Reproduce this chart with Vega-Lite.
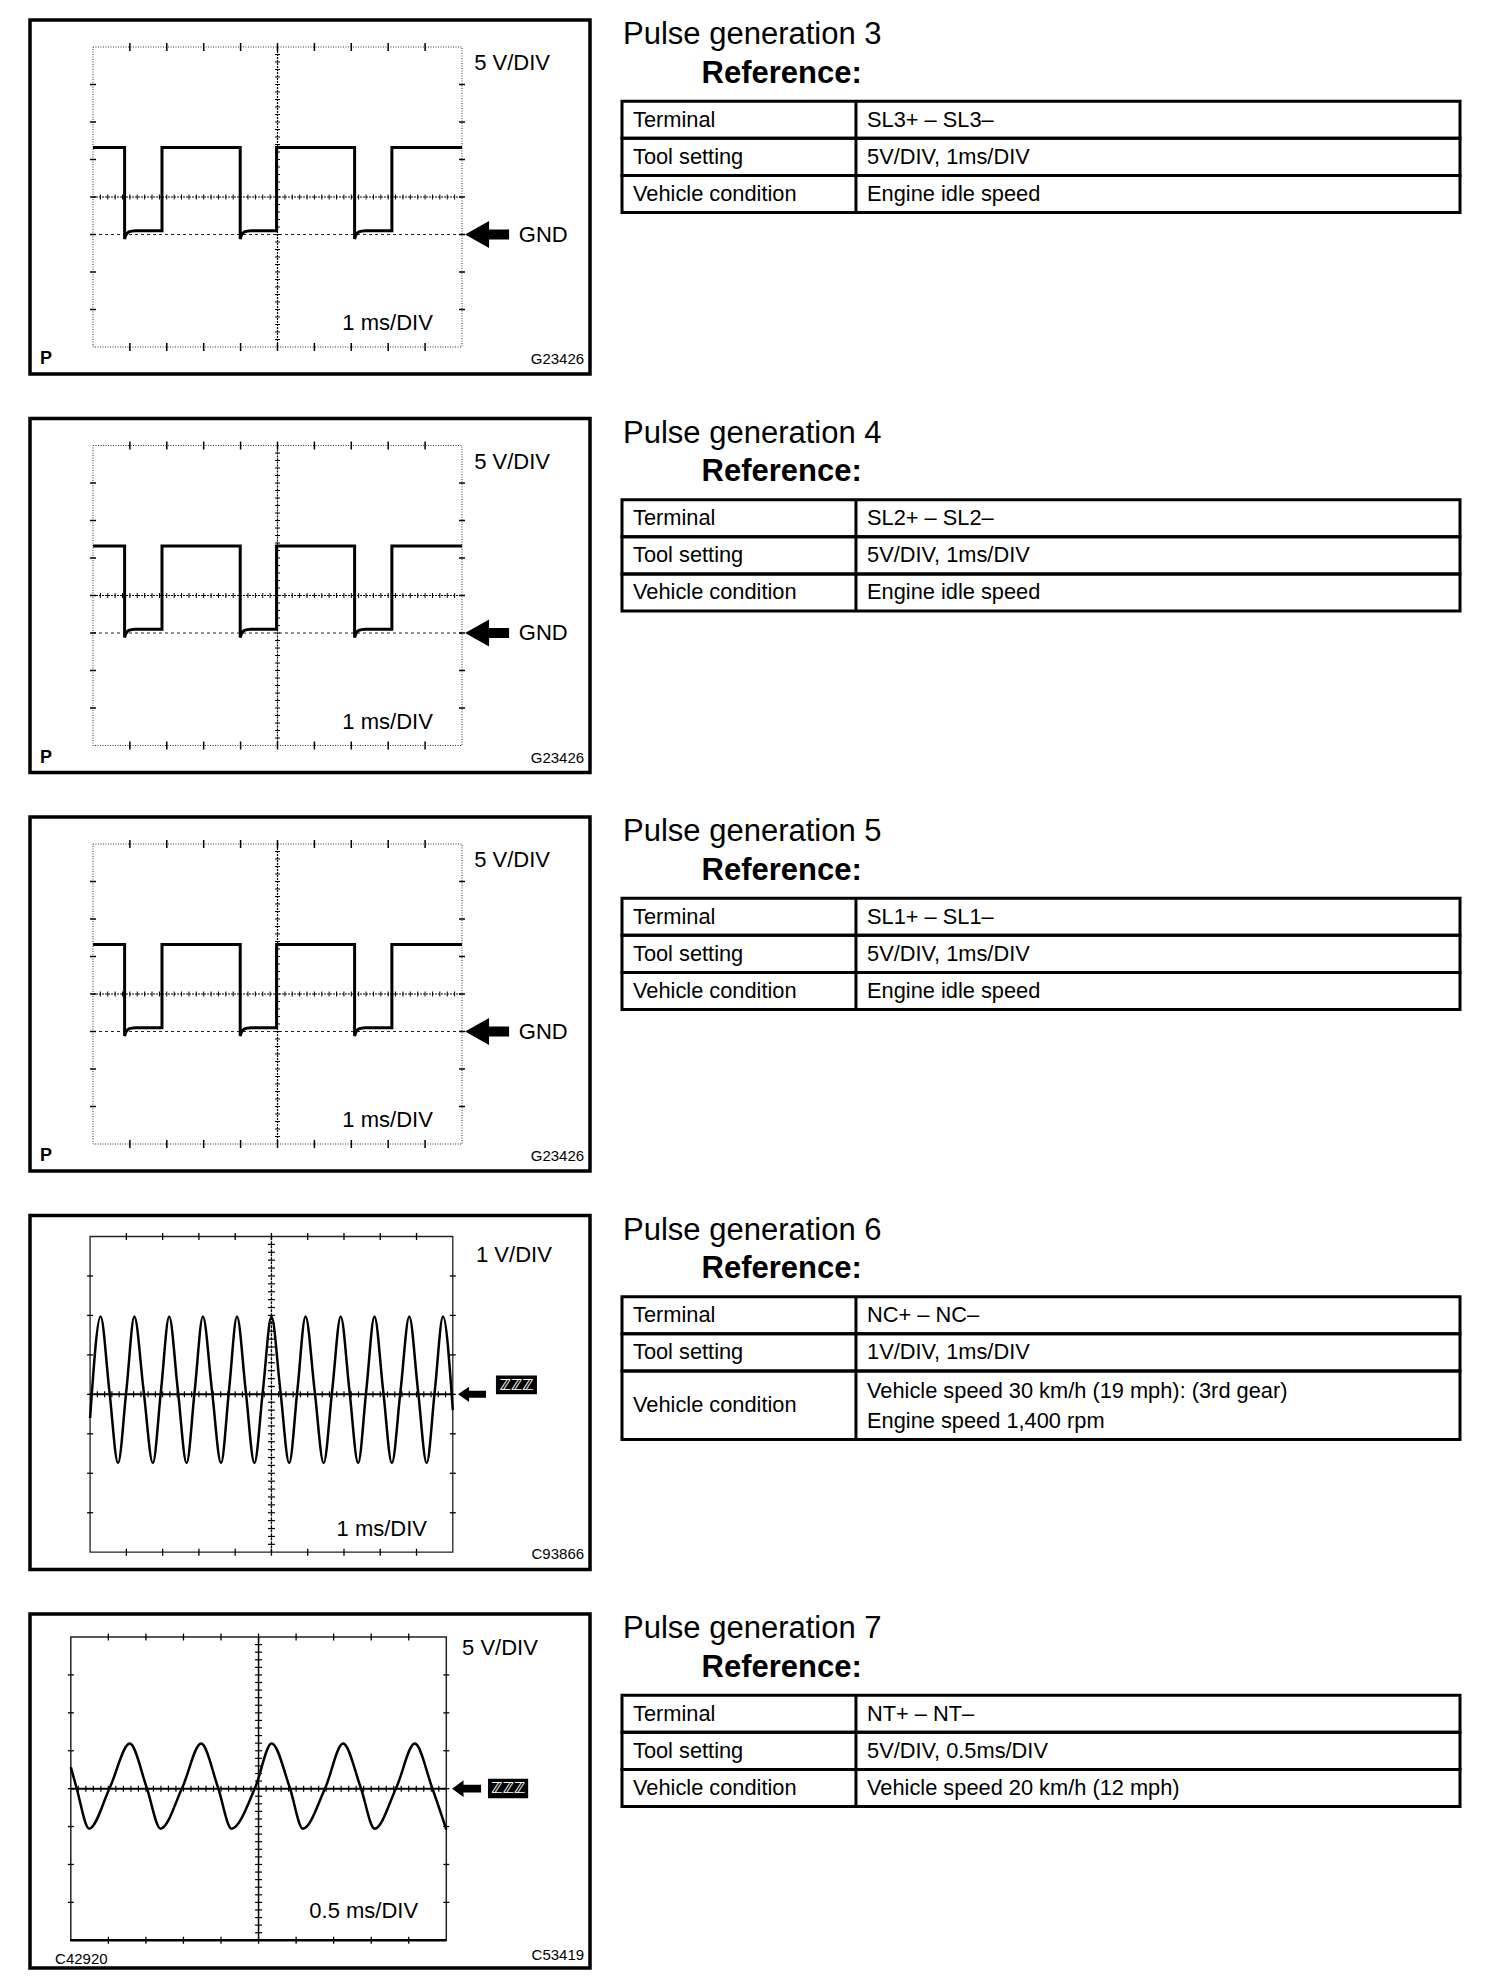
{
  "$schema": "https://vega.github.io/schema/vega-lite/v6.json",
  "background": "white",
  "padding": {"left": 28, "top": 18, "right": 0, "bottom": 0},
  "autosize": {"type": "pad"},
  "spacing": 40.5,
  "config": {
    "view": {"stroke": null},
    "axis": {"disable": true},
    "mark": {"color": "black"},
    "text": {"font": "Liberation Sans", "color": "black"}
  },
  "datasets": {
    "hminor": [{"p":0.2},{"p":0.4},{"p":0.6},{"p":0.8},{"p":1},{"p":1.2},{"p":1.4},{"p":1.6},{"p":1.8},{"p":2},{"p":2.2},{"p":2.4},{"p":2.6},{"p":2.8},{"p":3},{"p":3.2},{"p":3.4},{"p":3.6},{"p":3.8},{"p":4},{"p":4.2},{"p":4.4},{"p":4.6},{"p":4.8},{"p":5},{"p":5.2},{"p":5.4},{"p":5.6},{"p":5.8},{"p":6},{"p":6.2},{"p":6.4},{"p":6.6},{"p":6.8},{"p":7},{"p":7.2},{"p":7.4},{"p":7.6},{"p":7.8},{"p":8},{"p":8.2},{"p":8.4},{"p":8.6},{"p":8.8},{"p":9},{"p":9.2},{"p":9.4},{"p":9.6},{"p":9.8}],
    "vminor": [{"p":0.2},{"p":0.4},{"p":0.6},{"p":0.8},{"p":1},{"p":1.2},{"p":1.4},{"p":1.6},{"p":1.8},{"p":2},{"p":2.2},{"p":2.4},{"p":2.6},{"p":2.8},{"p":3},{"p":3.2},{"p":3.4},{"p":3.6},{"p":3.8},{"p":4},{"p":4.2},{"p":4.4},{"p":4.6},{"p":4.8},{"p":5},{"p":5.2},{"p":5.4},{"p":5.6},{"p":5.8},{"p":6},{"p":6.2},{"p":6.4},{"p":6.6},{"p":6.8},{"p":7},{"p":7.2},{"p":7.4},{"p":7.6},{"p":7.8}],
    "hmajor": [{"p":1},{"p":2},{"p":3},{"p":4},{"p":5},{"p":6},{"p":7},{"p":8},{"p":9}],
    "vmajor": [{"p":1},{"p":2},{"p":3},{"p":4},{"p":5},{"p":6},{"p":7}],
    "sq": [{"t":0,"v":5.32},{"t":0.857,"v":5.32},{"t":0.857,"v":2.88},{"t":0.88,"v":2.96},{"t":0.92,"v":3.03},{"t":0.97,"v":3.07},{"t":1.05,"v":3.09},{"t":1.15,"v":3.1},{"t":1.87,"v":3.1},{"t":1.87,"v":5.32},{"t":3.99,"v":5.32},{"t":3.99,"v":2.88},{"t":4.013,"v":2.96},{"t":4.053,"v":3.03},{"t":4.103,"v":3.07},{"t":4.183,"v":3.09},{"t":4.283,"v":3.1},{"t":4.975,"v":3.1},{"t":4.975,"v":5.32},{"t":7.09,"v":5.32},{"t":7.09,"v":2.88},{"t":7.113,"v":2.96},{"t":7.153,"v":3.03},{"t":7.203,"v":3.07},{"t":7.283,"v":3.09},{"t":7.383,"v":3.1},{"t":8.1,"v":3.1},{"t":8.1,"v":5.32},{"t":10,"v":5.32}],
    "sine6": [{"t":0,"v":3.4},{"t":0.29,"v":5.97},{"t":0.53,"v":4.1},{"t":0.77,"v":2.26},{"t":1.0,"v":4.1},{"t":1.22,"v":5.97},{"t":1.475,"v":4.1},{"t":1.73,"v":2.26},{"t":1.955,"v":4.1},{"t":2.18,"v":5.97},{"t":2.42,"v":4.1},{"t":2.66,"v":2.26},{"t":2.885,"v":4.1},{"t":3.11,"v":5.97},{"t":3.36,"v":4.1},{"t":3.61,"v":2.26},{"t":3.83,"v":4.1},{"t":4.05,"v":5.97},{"t":4.29,"v":4.1},{"t":4.53,"v":2.26},{"t":4.765,"v":4.1},{"t":5.0,"v":5.97},{"t":5.245,"v":4.1},{"t":5.49,"v":2.26},{"t":5.715,"v":4.1},{"t":5.94,"v":5.97},{"t":6.19,"v":4.1},{"t":6.44,"v":2.26},{"t":6.675,"v":4.1},{"t":6.91,"v":5.97},{"t":7.15,"v":4.1},{"t":7.39,"v":2.26},{"t":7.615,"v":4.1},{"t":7.84,"v":5.97},{"t":8.08,"v":4.1},{"t":8.32,"v":2.26},{"t":8.56,"v":4.1},{"t":8.8,"v":5.97},{"t":9.04,"v":4.1},{"t":9.28,"v":2.26},{"t":9.505,"v":4.1},{"t":9.73,"v":5.97},{"t":10,"v":3.6}],
    "sine7": [{"t":0,"v":4.57},{"t":0.15,"v":4.03},{"t":0.49,"v":2.945},{"t":1.04,"v":4.03},{"t":1.57,"v":5.19},{"t":2.02,"v":4.03},{"t":2.39,"v":2.945},{"t":2.97,"v":4.03},{"t":3.47,"v":5.19},{"t":3.92,"v":4.03},{"t":4.28,"v":2.945},{"t":4.91,"v":4.03},{"t":5.35,"v":5.19},{"t":5.83,"v":4.03},{"t":6.18,"v":2.945},{"t":6.78,"v":4.03},{"t":7.25,"v":5.19},{"t":7.72,"v":4.03},{"t":8.09,"v":2.945},{"t":8.67,"v":4.03},{"t":9.16,"v":5.19},{"t":9.62,"v":4.03},{"t":10,"v":2.92}],
    "t3": [{"label":"Terminal","value":"SL3+ – SL3–","top":0,"bottom":1,"mid":0.5,"vy":0.5},{"label":"Tool setting","value":"5V/DIV, 1ms/DIV","top":1,"bottom":2,"mid":1.5,"vy":1.5},{"label":"Vehicle condition","value":"Engine idle speed","top":2,"bottom":3,"mid":2.5,"vy":2.5}],
    "t4": [{"label":"Terminal","value":"SL2+ – SL2–","top":0,"bottom":1,"mid":0.5,"vy":0.5},{"label":"Tool setting","value":"5V/DIV, 1ms/DIV","top":1,"bottom":2,"mid":1.5,"vy":1.5},{"label":"Vehicle condition","value":"Engine idle speed","top":2,"bottom":3,"mid":2.5,"vy":2.5}],
    "t5": [{"label":"Terminal","value":"SL1+ – SL1–","top":0,"bottom":1,"mid":0.5,"vy":0.5},{"label":"Tool setting","value":"5V/DIV, 1ms/DIV","top":1,"bottom":2,"mid":1.5,"vy":1.5},{"label":"Vehicle condition","value":"Engine idle speed","top":2,"bottom":3,"mid":2.5,"vy":2.5}],
    "t6": [{"label":"Terminal","value":"NC+ – NC–","top":0,"bottom":1,"mid":0.5,"vy":0.5},{"label":"Tool setting","value":"1V/DIV, 1ms/DIV","top":1,"bottom":2,"mid":1.5,"vy":1.5},{"label":"Vehicle condition","value":"Vehicle speed 30 km/h (19 mph): (3rd gear)\nEngine speed 1,400 rpm","top":2,"bottom":3.85,"mid":2.925,"vy":2.53}],
    "t7": [{"label":"Terminal","value":"NT+ – NT–","top":0,"bottom":1,"mid":0.5,"vy":0.5},{"label":"Tool setting","value":"5V/DIV, 0.5ms/DIV","top":1,"bottom":2,"mid":1.5,"vy":1.5},{"label":"Vehicle condition","value":"Vehicle speed 20 km/h (12 mph)","top":2,"bottom":3,"mid":2.5,"vy":2.5}]
  },
  "vconcat": [
    {"hconcat": [
      {"width": 560, "height": 354, "layer": [
        {"data": {"values": [{}]}, "mark": {"type": "rect", "fill": "transparent", "stroke": "black", "strokeWidth": 3.5}, "encoding": {"x": {"datum": -1.707, "scale": {"domain": [-1.707, 13.469], "nice": false, "zero": false}}, "x2": {"datum": 13.469}, "y": {"datum": -0.72, "scale": {"domain": [-0.72, 8.72], "nice": false, "zero": false}}, "y2": {"datum": 8.72}}},
        {"data": {"values": [{}]}, "mark": {"type": "rect", "fill": "transparent", "stroke": "#333", "strokeWidth": 1, "strokeDash": [1, 1.5]}, "encoding": {"x": {"datum": 0}, "x2": {"datum": 10}, "y": {"datum": 0}, "y2": {"datum": 8}}},
        {"data": {"values": [{}]}, "mark": {"type": "rule", "stroke": "black", "strokeWidth": 1.2, "strokeDash": [2, 1]}, "encoding": {"x": {"datum": 5}, "y": {"datum": 0}, "y2": {"datum": 8}}},
        {"data": {"values": [{}]}, "mark": {"type": "rule", "stroke": "black", "strokeWidth": 1.2, "strokeDash": [2, 1]}, "encoding": {"y": {"datum": 4}, "x": {"datum": 0}, "x2": {"datum": 10}}},
        {"data": {"values": [{}]}, "mark": {"type": "rule", "stroke": "#222", "strokeWidth": 1, "strokeDash": [3, 3]}, "encoding": {"y": {"datum": 3}, "x": {"datum": 0}, "x2": {"datum": 10}}},
        {"data": {"name": "hminor"}, "mark": {"type": "tick", "orient": "vertical", "size": 5, "thickness": 1, "color": "black", "opacity": 1}, "encoding": {"x": {"field": "p", "type": "quantitative"}, "y": {"datum": 4}}},
        {"data": {"name": "vminor"}, "mark": {"type": "tick", "orient": "horizontal", "size": 5, "thickness": 1, "color": "black", "opacity": 1}, "encoding": {"y": {"field": "p", "type": "quantitative"}, "x": {"datum": 5}}},
        {"data": {"name": "hmajor"}, "mark": {"type": "tick", "orient": "vertical", "size": 8, "thickness": 1.5, "color": "black", "opacity": 1}, "encoding": {"x": {"field": "p", "type": "quantitative"}, "y": {"datum": 8}}},
        {"data": {"name": "hmajor"}, "mark": {"type": "tick", "orient": "vertical", "size": 8, "thickness": 1.5, "color": "black", "opacity": 1}, "encoding": {"x": {"field": "p", "type": "quantitative"}, "y": {"datum": 0}}},
        {"data": {"name": "vmajor"}, "mark": {"type": "tick", "orient": "horizontal", "size": 6, "thickness": 1.5, "color": "black", "opacity": 1}, "encoding": {"y": {"field": "p", "type": "quantitative"}, "x": {"datum": 0}}},
        {"data": {"name": "vmajor"}, "mark": {"type": "tick", "orient": "horizontal", "size": 6, "thickness": 1.5, "color": "black", "opacity": 1}, "encoding": {"y": {"field": "p", "type": "quantitative"}, "x": {"datum": 10}}},
        {"data": {"name": "sq"}, "mark": {"type": "line", "color": "black", "strokeWidth": 3, "strokeJoin": "miter"}, "encoding": {"x": {"field": "t", "type": "quantitative"}, "y": {"field": "v", "type": "quantitative"}, "order": {"value": null}}},
        {"data": {"values": [{}]}, "mark": {"type": "point", "shape": "M-1,0L0.09,-0.61L0.09,-0.23L1,-0.23L1,0.23L0.09,0.23L0.09,0.61Z", "size": 1936, "filled": true, "color": "black", "opacity": 1, "strokeWidth": 0}, "encoding": {"x": {"datum": 10.68}, "y": {"datum": 3}}},
        {"data": {"values": [{}]}, "mark": {"type": "text", "align": "left", "baseline": "middle", "fontSize": 22}, "encoding": {"x": {"datum": 10.33}, "y": {"datum": 7.57}, "text": {"value": "5 V/DIV"}}},
        {"data": {"values": [{}]}, "mark": {"type": "text", "align": "left", "baseline": "middle", "fontSize": 22}, "encoding": {"x": {"datum": 11.54}, "y": {"datum": 3}, "text": {"value": "GND"}}},
        {"data": {"values": [{}]}, "mark": {"type": "text", "align": "right", "baseline": "middle", "fontSize": 22}, "encoding": {"x": {"datum": 9.21}, "y": {"datum": 0.64}, "text": {"value": "1 ms/DIV"}}},
        {"data": {"values": [{}]}, "mark": {"type": "text", "align": "left", "baseline": "middle", "fontSize": 18, "fontWeight": "bold"}, "encoding": {"x": {"datum": -1.436}, "y": {"datum": -0.33}, "text": {"value": "P"}}},
        {"data": {"values": [{}]}, "mark": {"type": "text", "align": "right", "baseline": "middle", "fontSize": 15}, "encoding": {"x": {"datum": 13.31}, "y": {"datum": -0.32}, "text": {"value": "G23426"}}}
      ]},
      {"width": 860, "height": 354, "layer": [
        {"data": {"values": [{}]}, "mark": {"type": "text", "align": "left", "baseline": "alphabetic", "fontSize": 31}, "encoding": {"x": {"datum": 0.0012, "scale": {"domain": [-0.01432, 1.01193], "nice": false, "zero": false}}, "y": {"datum": -1.542, "scale": {"domain": [-2.189, 7.353], "nice": false, "zero": false, "reverse": true}}, "text": {"value": "Pulse generation 3"}}},
        {"data": {"values": [{}]}, "mark": {"type": "text", "align": "left", "baseline": "alphabetic", "fontSize": 31, "fontWeight": "bold"}, "encoding": {"x": {"datum": 0.0949}, "y": {"datum": -0.491}, "text": {"value": "Reference:"}}},
        {"data": {"name": "t3"}, "mark": {"type": "rect", "fill": "transparent", "stroke": "black", "strokeWidth": 3}, "encoding": {"x": {"datum": 0}, "x2": {"datum": 1}, "y": {"field": "top", "type": "quantitative"}, "y2": {"field": "bottom"}}},
        {"data": {"values": [{}]}, "mark": {"type": "rule", "stroke": "black", "strokeWidth": 3}, "encoding": {"x": {"datum": 0.2792}, "y": {"datum": 0}, "y2": {"datum": 3}}},
        {"data": {"name": "t3"}, "mark": {"type": "text", "align": "left", "baseline": "middle", "fontSize": 21.8}, "encoding": {"x": {"datum": 0.0131}, "y": {"field": "mid", "type": "quantitative"}, "text": {"field": "label"}}},
        {"data": {"name": "t3"}, "mark": {"type": "text", "align": "left", "baseline": "middle", "fontSize": 21.8}, "encoding": {"x": {"datum": 0.2924}, "y": {"field": "vy", "type": "quantitative"}, "text": {"field": "value"}}}
      ]}
    ], "spacing": 20, "bounds": "flush"},
    {"hconcat": [
      {"width": 560, "height": 354, "layer": [
        {"data": {"values": [{}]}, "mark": {"type": "rect", "fill": "transparent", "stroke": "black", "strokeWidth": 3.5}, "encoding": {"x": {"datum": -1.707, "scale": {"domain": [-1.707, 13.469], "nice": false, "zero": false}}, "x2": {"datum": 13.469}, "y": {"datum": -0.72, "scale": {"domain": [-0.72, 8.72], "nice": false, "zero": false}}, "y2": {"datum": 8.72}}},
        {"data": {"values": [{}]}, "mark": {"type": "rect", "fill": "transparent", "stroke": "#333", "strokeWidth": 1, "strokeDash": [1, 1.5]}, "encoding": {"x": {"datum": 0}, "x2": {"datum": 10}, "y": {"datum": 0}, "y2": {"datum": 8}}},
        {"data": {"values": [{}]}, "mark": {"type": "rule", "stroke": "black", "strokeWidth": 1.2, "strokeDash": [2, 1]}, "encoding": {"x": {"datum": 5}, "y": {"datum": 0}, "y2": {"datum": 8}}},
        {"data": {"values": [{}]}, "mark": {"type": "rule", "stroke": "black", "strokeWidth": 1.2, "strokeDash": [2, 1]}, "encoding": {"y": {"datum": 4}, "x": {"datum": 0}, "x2": {"datum": 10}}},
        {"data": {"values": [{}]}, "mark": {"type": "rule", "stroke": "#222", "strokeWidth": 1, "strokeDash": [3, 3]}, "encoding": {"y": {"datum": 3}, "x": {"datum": 0}, "x2": {"datum": 10}}},
        {"data": {"name": "hminor"}, "mark": {"type": "tick", "orient": "vertical", "size": 5, "thickness": 1, "color": "black", "opacity": 1}, "encoding": {"x": {"field": "p", "type": "quantitative"}, "y": {"datum": 4}}},
        {"data": {"name": "vminor"}, "mark": {"type": "tick", "orient": "horizontal", "size": 5, "thickness": 1, "color": "black", "opacity": 1}, "encoding": {"y": {"field": "p", "type": "quantitative"}, "x": {"datum": 5}}},
        {"data": {"name": "hmajor"}, "mark": {"type": "tick", "orient": "vertical", "size": 8, "thickness": 1.5, "color": "black", "opacity": 1}, "encoding": {"x": {"field": "p", "type": "quantitative"}, "y": {"datum": 8}}},
        {"data": {"name": "hmajor"}, "mark": {"type": "tick", "orient": "vertical", "size": 8, "thickness": 1.5, "color": "black", "opacity": 1}, "encoding": {"x": {"field": "p", "type": "quantitative"}, "y": {"datum": 0}}},
        {"data": {"name": "vmajor"}, "mark": {"type": "tick", "orient": "horizontal", "size": 6, "thickness": 1.5, "color": "black", "opacity": 1}, "encoding": {"y": {"field": "p", "type": "quantitative"}, "x": {"datum": 0}}},
        {"data": {"name": "vmajor"}, "mark": {"type": "tick", "orient": "horizontal", "size": 6, "thickness": 1.5, "color": "black", "opacity": 1}, "encoding": {"y": {"field": "p", "type": "quantitative"}, "x": {"datum": 10}}},
        {"data": {"name": "sq"}, "mark": {"type": "line", "color": "black", "strokeWidth": 3, "strokeJoin": "miter"}, "encoding": {"x": {"field": "t", "type": "quantitative"}, "y": {"field": "v", "type": "quantitative"}, "order": {"value": null}}},
        {"data": {"values": [{}]}, "mark": {"type": "point", "shape": "M-1,0L0.09,-0.61L0.09,-0.23L1,-0.23L1,0.23L0.09,0.23L0.09,0.61Z", "size": 1936, "filled": true, "color": "black", "opacity": 1, "strokeWidth": 0}, "encoding": {"x": {"datum": 10.68}, "y": {"datum": 3}}},
        {"data": {"values": [{}]}, "mark": {"type": "text", "align": "left", "baseline": "middle", "fontSize": 22}, "encoding": {"x": {"datum": 10.33}, "y": {"datum": 7.57}, "text": {"value": "5 V/DIV"}}},
        {"data": {"values": [{}]}, "mark": {"type": "text", "align": "left", "baseline": "middle", "fontSize": 22}, "encoding": {"x": {"datum": 11.54}, "y": {"datum": 3}, "text": {"value": "GND"}}},
        {"data": {"values": [{}]}, "mark": {"type": "text", "align": "right", "baseline": "middle", "fontSize": 22}, "encoding": {"x": {"datum": 9.21}, "y": {"datum": 0.64}, "text": {"value": "1 ms/DIV"}}},
        {"data": {"values": [{}]}, "mark": {"type": "text", "align": "left", "baseline": "middle", "fontSize": 18, "fontWeight": "bold"}, "encoding": {"x": {"datum": -1.436}, "y": {"datum": -0.33}, "text": {"value": "P"}}},
        {"data": {"values": [{}]}, "mark": {"type": "text", "align": "right", "baseline": "middle", "fontSize": 15}, "encoding": {"x": {"datum": 13.31}, "y": {"datum": -0.32}, "text": {"value": "G23426"}}}
      ]},
      {"width": 860, "height": 354, "layer": [
        {"data": {"values": [{}]}, "mark": {"type": "text", "align": "left", "baseline": "alphabetic", "fontSize": 31}, "encoding": {"x": {"datum": 0.0012, "scale": {"domain": [-0.01432, 1.01193], "nice": false, "zero": false}}, "y": {"datum": -1.542, "scale": {"domain": [-2.189, 7.353], "nice": false, "zero": false, "reverse": true}}, "text": {"value": "Pulse generation 4"}}},
        {"data": {"values": [{}]}, "mark": {"type": "text", "align": "left", "baseline": "alphabetic", "fontSize": 31, "fontWeight": "bold"}, "encoding": {"x": {"datum": 0.0949}, "y": {"datum": -0.491}, "text": {"value": "Reference:"}}},
        {"data": {"name": "t4"}, "mark": {"type": "rect", "fill": "transparent", "stroke": "black", "strokeWidth": 3}, "encoding": {"x": {"datum": 0}, "x2": {"datum": 1}, "y": {"field": "top", "type": "quantitative"}, "y2": {"field": "bottom"}}},
        {"data": {"values": [{}]}, "mark": {"type": "rule", "stroke": "black", "strokeWidth": 3}, "encoding": {"x": {"datum": 0.2792}, "y": {"datum": 0}, "y2": {"datum": 3}}},
        {"data": {"name": "t4"}, "mark": {"type": "text", "align": "left", "baseline": "middle", "fontSize": 21.8}, "encoding": {"x": {"datum": 0.0131}, "y": {"field": "mid", "type": "quantitative"}, "text": {"field": "label"}}},
        {"data": {"name": "t4"}, "mark": {"type": "text", "align": "left", "baseline": "middle", "fontSize": 21.8}, "encoding": {"x": {"datum": 0.2924}, "y": {"field": "vy", "type": "quantitative"}, "text": {"field": "value"}}}
      ]}
    ], "spacing": 20, "bounds": "flush"},
    {"hconcat": [
      {"width": 560, "height": 354, "layer": [
        {"data": {"values": [{}]}, "mark": {"type": "rect", "fill": "transparent", "stroke": "black", "strokeWidth": 3.5}, "encoding": {"x": {"datum": -1.707, "scale": {"domain": [-1.707, 13.469], "nice": false, "zero": false}}, "x2": {"datum": 13.469}, "y": {"datum": -0.72, "scale": {"domain": [-0.72, 8.72], "nice": false, "zero": false}}, "y2": {"datum": 8.72}}},
        {"data": {"values": [{}]}, "mark": {"type": "rect", "fill": "transparent", "stroke": "#333", "strokeWidth": 1, "strokeDash": [1, 1.5]}, "encoding": {"x": {"datum": 0}, "x2": {"datum": 10}, "y": {"datum": 0}, "y2": {"datum": 8}}},
        {"data": {"values": [{}]}, "mark": {"type": "rule", "stroke": "black", "strokeWidth": 1.2, "strokeDash": [2, 1]}, "encoding": {"x": {"datum": 5}, "y": {"datum": 0}, "y2": {"datum": 8}}},
        {"data": {"values": [{}]}, "mark": {"type": "rule", "stroke": "black", "strokeWidth": 1.2, "strokeDash": [2, 1]}, "encoding": {"y": {"datum": 4}, "x": {"datum": 0}, "x2": {"datum": 10}}},
        {"data": {"values": [{}]}, "mark": {"type": "rule", "stroke": "#222", "strokeWidth": 1, "strokeDash": [3, 3]}, "encoding": {"y": {"datum": 3}, "x": {"datum": 0}, "x2": {"datum": 10}}},
        {"data": {"name": "hminor"}, "mark": {"type": "tick", "orient": "vertical", "size": 5, "thickness": 1, "color": "black", "opacity": 1}, "encoding": {"x": {"field": "p", "type": "quantitative"}, "y": {"datum": 4}}},
        {"data": {"name": "vminor"}, "mark": {"type": "tick", "orient": "horizontal", "size": 5, "thickness": 1, "color": "black", "opacity": 1}, "encoding": {"y": {"field": "p", "type": "quantitative"}, "x": {"datum": 5}}},
        {"data": {"name": "hmajor"}, "mark": {"type": "tick", "orient": "vertical", "size": 8, "thickness": 1.5, "color": "black", "opacity": 1}, "encoding": {"x": {"field": "p", "type": "quantitative"}, "y": {"datum": 8}}},
        {"data": {"name": "hmajor"}, "mark": {"type": "tick", "orient": "vertical", "size": 8, "thickness": 1.5, "color": "black", "opacity": 1}, "encoding": {"x": {"field": "p", "type": "quantitative"}, "y": {"datum": 0}}},
        {"data": {"name": "vmajor"}, "mark": {"type": "tick", "orient": "horizontal", "size": 6, "thickness": 1.5, "color": "black", "opacity": 1}, "encoding": {"y": {"field": "p", "type": "quantitative"}, "x": {"datum": 0}}},
        {"data": {"name": "vmajor"}, "mark": {"type": "tick", "orient": "horizontal", "size": 6, "thickness": 1.5, "color": "black", "opacity": 1}, "encoding": {"y": {"field": "p", "type": "quantitative"}, "x": {"datum": 10}}},
        {"data": {"name": "sq"}, "mark": {"type": "line", "color": "black", "strokeWidth": 3, "strokeJoin": "miter"}, "encoding": {"x": {"field": "t", "type": "quantitative"}, "y": {"field": "v", "type": "quantitative"}, "order": {"value": null}}},
        {"data": {"values": [{}]}, "mark": {"type": "point", "shape": "M-1,0L0.09,-0.61L0.09,-0.23L1,-0.23L1,0.23L0.09,0.23L0.09,0.61Z", "size": 1936, "filled": true, "color": "black", "opacity": 1, "strokeWidth": 0}, "encoding": {"x": {"datum": 10.68}, "y": {"datum": 3}}},
        {"data": {"values": [{}]}, "mark": {"type": "text", "align": "left", "baseline": "middle", "fontSize": 22}, "encoding": {"x": {"datum": 10.33}, "y": {"datum": 7.57}, "text": {"value": "5 V/DIV"}}},
        {"data": {"values": [{}]}, "mark": {"type": "text", "align": "left", "baseline": "middle", "fontSize": 22}, "encoding": {"x": {"datum": 11.54}, "y": {"datum": 3}, "text": {"value": "GND"}}},
        {"data": {"values": [{}]}, "mark": {"type": "text", "align": "right", "baseline": "middle", "fontSize": 22}, "encoding": {"x": {"datum": 9.21}, "y": {"datum": 0.64}, "text": {"value": "1 ms/DIV"}}},
        {"data": {"values": [{}]}, "mark": {"type": "text", "align": "left", "baseline": "middle", "fontSize": 18, "fontWeight": "bold"}, "encoding": {"x": {"datum": -1.436}, "y": {"datum": -0.33}, "text": {"value": "P"}}},
        {"data": {"values": [{}]}, "mark": {"type": "text", "align": "right", "baseline": "middle", "fontSize": 15}, "encoding": {"x": {"datum": 13.31}, "y": {"datum": -0.32}, "text": {"value": "G23426"}}}
      ]},
      {"width": 860, "height": 354, "layer": [
        {"data": {"values": [{}]}, "mark": {"type": "text", "align": "left", "baseline": "alphabetic", "fontSize": 31}, "encoding": {"x": {"datum": 0.0012, "scale": {"domain": [-0.01432, 1.01193], "nice": false, "zero": false}}, "y": {"datum": -1.542, "scale": {"domain": [-2.189, 7.353], "nice": false, "zero": false, "reverse": true}}, "text": {"value": "Pulse generation 5"}}},
        {"data": {"values": [{}]}, "mark": {"type": "text", "align": "left", "baseline": "alphabetic", "fontSize": 31, "fontWeight": "bold"}, "encoding": {"x": {"datum": 0.0949}, "y": {"datum": -0.491}, "text": {"value": "Reference:"}}},
        {"data": {"name": "t5"}, "mark": {"type": "rect", "fill": "transparent", "stroke": "black", "strokeWidth": 3}, "encoding": {"x": {"datum": 0}, "x2": {"datum": 1}, "y": {"field": "top", "type": "quantitative"}, "y2": {"field": "bottom"}}},
        {"data": {"values": [{}]}, "mark": {"type": "rule", "stroke": "black", "strokeWidth": 3}, "encoding": {"x": {"datum": 0.2792}, "y": {"datum": 0}, "y2": {"datum": 3}}},
        {"data": {"name": "t5"}, "mark": {"type": "text", "align": "left", "baseline": "middle", "fontSize": 21.8}, "encoding": {"x": {"datum": 0.0131}, "y": {"field": "mid", "type": "quantitative"}, "text": {"field": "label"}}},
        {"data": {"name": "t5"}, "mark": {"type": "text", "align": "left", "baseline": "middle", "fontSize": 21.8}, "encoding": {"x": {"datum": 0.2924}, "y": {"field": "vy", "type": "quantitative"}, "text": {"field": "value"}}}
      ]}
    ], "spacing": 20, "bounds": "flush"},
    {"hconcat": [
      {"width": 560, "height": 354, "layer": [
        {"data": {"values": [{}]}, "mark": {"type": "rect", "fill": "transparent", "stroke": "black", "strokeWidth": 3.5}, "encoding": {"x": {"datum": -1.657, "scale": {"domain": [-1.657, 13.783], "nice": false, "zero": false}}, "x2": {"datum": 13.783}, "y": {"datum": -0.438, "scale": {"domain": [-0.438, 8.532], "nice": false, "zero": false}}, "y2": {"datum": 8.532}}},
        {"data": {"values": [{}]}, "mark": {"type": "rect", "fill": "transparent", "stroke": "#222", "strokeWidth": 1.3}, "encoding": {"x": {"datum": 0}, "x2": {"datum": 10}, "y": {"datum": 0}, "y2": {"datum": 8}}},
        {"data": {"values": [{}]}, "mark": {"type": "rule", "stroke": "black", "strokeWidth": 1.3, "strokeDash": [3, 1]}, "encoding": {"x": {"datum": 5}, "y": {"datum": 0}, "y2": {"datum": 8}}},
        {"data": {"values": [{}]}, "mark": {"type": "rule", "stroke": "black", "strokeWidth": 2}, "encoding": {"y": {"datum": 4}, "x": {"datum": 0}, "x2": {"datum": 10}}},
        {"data": {"name": "hminor"}, "mark": {"type": "tick", "orient": "vertical", "size": 6, "thickness": 1.2, "color": "black", "opacity": 1}, "encoding": {"x": {"field": "p", "type": "quantitative"}, "y": {"datum": 4}}},
        {"data": {"name": "vminor"}, "mark": {"type": "tick", "orient": "horizontal", "size": 7, "thickness": 1.2, "color": "black", "opacity": 1}, "encoding": {"y": {"field": "p", "type": "quantitative"}, "x": {"datum": 5}}},
        {"data": {"name": "hmajor"}, "mark": {"type": "tick", "orient": "vertical", "size": 7, "thickness": 1.3, "color": "black", "opacity": 1}, "encoding": {"x": {"field": "p", "type": "quantitative"}, "y": {"datum": 8}}},
        {"data": {"name": "hmajor"}, "mark": {"type": "tick", "orient": "vertical", "size": 7, "thickness": 1.3, "color": "black", "opacity": 1}, "encoding": {"x": {"field": "p", "type": "quantitative"}, "y": {"datum": 0}}},
        {"data": {"name": "vmajor"}, "mark": {"type": "tick", "orient": "horizontal", "size": 6, "thickness": 1.3, "color": "black", "opacity": 1}, "encoding": {"y": {"field": "p", "type": "quantitative"}, "x": {"datum": 0}}},
        {"data": {"name": "vmajor"}, "mark": {"type": "tick", "orient": "horizontal", "size": 6, "thickness": 1.3, "color": "black", "opacity": 1}, "encoding": {"y": {"field": "p", "type": "quantitative"}, "x": {"datum": 10}}},
        {"data": {"name": "sine6"}, "mark": {"type": "line", "color": "black", "strokeWidth": 2.5, "interpolate": "monotone"}, "encoding": {"x": {"field": "t", "type": "quantitative"}, "y": {"field": "v", "type": "quantitative"}, "order": {"value": null}}},
        {"data": {"values": [{}]}, "mark": {"type": "point", "shape": "M-1,0L-0.21,-0.54L-0.21,-0.25L1,-0.25L1,0.25L-0.21,0.25L-0.21,0.54Z", "size": 784, "filled": true, "color": "black", "opacity": 1, "strokeWidth": 0}, "encoding": {"x": {"datum": 10.53}, "y": {"datum": 4}}},
        {"data": {"values": [{}]}, "mark": {"type": "rect", "color": "black", "opacity": 1}, "encoding": {"x": {"datum": 11.19}, "x2": {"datum": 12.32}, "y": {"datum": 4.0}, "y2": {"datum": 4.48}}},
        {"data": {"values": [{}]}, "mark": {"type": "text", "align": "center", "baseline": "middle", "fontSize": 15, "fontWeight": "bold", "font": "DejaVu Sans", "color": "white"}, "encoding": {"x": {"datum": 11.755}, "y": {"datum": 4.24}, "text": {"value": "ℤℤℤ"}}},
        {"data": {"values": [{}]}, "mark": {"type": "text", "align": "left", "baseline": "middle", "fontSize": 22}, "encoding": {"x": {"datum": 10.64}, "y": {"datum": 7.54}, "text": {"value": "1 V/DIV"}}},
        {"data": {"values": [{}]}, "mark": {"type": "text", "align": "right", "baseline": "middle", "fontSize": 22}, "encoding": {"x": {"datum": 9.29}, "y": {"datum": 0.6}, "text": {"value": "1 ms/DIV"}}},
        {"data": {"values": [{}]}, "mark": {"type": "text", "align": "right", "baseline": "middle", "fontSize": 15}, "encoding": {"x": {"datum": 13.62}, "y": {"datum": -0.05}, "text": {"value": "C93866"}}}
      ]},
      {"width": 860, "height": 354, "layer": [
        {"data": {"values": [{}]}, "mark": {"type": "text", "align": "left", "baseline": "alphabetic", "fontSize": 31}, "encoding": {"x": {"datum": 0.0012, "scale": {"domain": [-0.01432, 1.01193], "nice": false, "zero": false}}, "y": {"datum": -1.542, "scale": {"domain": [-2.189, 7.353], "nice": false, "zero": false, "reverse": true}}, "text": {"value": "Pulse generation 6"}}},
        {"data": {"values": [{}]}, "mark": {"type": "text", "align": "left", "baseline": "alphabetic", "fontSize": 31, "fontWeight": "bold"}, "encoding": {"x": {"datum": 0.0949}, "y": {"datum": -0.491}, "text": {"value": "Reference:"}}},
        {"data": {"name": "t6"}, "mark": {"type": "rect", "fill": "transparent", "stroke": "black", "strokeWidth": 3}, "encoding": {"x": {"datum": 0}, "x2": {"datum": 1}, "y": {"field": "top", "type": "quantitative"}, "y2": {"field": "bottom"}}},
        {"data": {"values": [{}]}, "mark": {"type": "rule", "stroke": "black", "strokeWidth": 3}, "encoding": {"x": {"datum": 0.2792}, "y": {"datum": 0}, "y2": {"datum": 3.85}}},
        {"data": {"name": "t6"}, "mark": {"type": "text", "align": "left", "baseline": "middle", "fontSize": 21.8}, "encoding": {"x": {"datum": 0.0131}, "y": {"field": "mid", "type": "quantitative"}, "text": {"field": "label"}}},
        {"data": {"name": "t6"}, "mark": {"type": "text", "align": "left", "baseline": "middle", "fontSize": 21.8, "lineBreak": "\n", "lineHeight": 30}, "encoding": {"x": {"datum": 0.2924}, "y": {"field": "vy", "type": "quantitative"}, "text": {"field": "value"}}}
      ]}
    ], "spacing": 20, "bounds": "flush"},
    {"hconcat": [
      {"width": 560, "height": 354, "layer": [
        {"data": {"values": [{}]}, "mark": {"type": "rect", "fill": "transparent", "stroke": "black", "strokeWidth": 3.5}, "encoding": {"x": {"datum": -1.087, "scale": {"domain": [-1.087, 13.827], "nice": false, "zero": false}}, "x2": {"datum": 13.827}, "y": {"datum": -0.731, "scale": {"domain": [-0.731, 8.607], "nice": false, "zero": false}}, "y2": {"datum": 8.607}}},
        {"data": {"values": [{}]}, "mark": {"type": "rect", "fill": "transparent", "stroke": "#222", "strokeWidth": 1.5}, "encoding": {"x": {"datum": 0}, "x2": {"datum": 10}, "y": {"datum": 0}, "y2": {"datum": 8}}},
        {"data": {"values": [{}]}, "mark": {"type": "rule", "stroke": "black", "strokeWidth": 2.5}, "encoding": {"y": {"datum": 0}, "x": {"datum": -0.02}, "x2": {"datum": 10}}},
        {"data": {"values": [{}]}, "mark": {"type": "rule", "stroke": "black", "strokeWidth": 1.5}, "encoding": {"x": {"datum": 5}, "y": {"datum": 0}, "y2": {"datum": 8}}},
        {"data": {"values": [{}]}, "mark": {"type": "rule", "stroke": "black", "strokeWidth": 2}, "encoding": {"y": {"datum": 4}, "x": {"datum": 0}, "x2": {"datum": 10}}},
        {"data": {"name": "hminor"}, "mark": {"type": "tick", "orient": "vertical", "size": 6, "thickness": 1.2, "color": "black", "opacity": 1}, "encoding": {"x": {"field": "p", "type": "quantitative"}, "y": {"datum": 4}}},
        {"data": {"name": "vminor"}, "mark": {"type": "tick", "orient": "horizontal", "size": 7, "thickness": 1.2, "color": "black", "opacity": 1}, "encoding": {"y": {"field": "p", "type": "quantitative"}, "x": {"datum": 5}}},
        {"data": {"name": "hmajor"}, "mark": {"type": "tick", "orient": "vertical", "size": 7, "thickness": 1.3, "color": "black", "opacity": 1}, "encoding": {"x": {"field": "p", "type": "quantitative"}, "y": {"datum": 8}}},
        {"data": {"name": "hmajor"}, "mark": {"type": "tick", "orient": "vertical", "size": 7, "thickness": 1.3, "color": "black", "opacity": 1}, "encoding": {"x": {"field": "p", "type": "quantitative"}, "y": {"datum": 0}}},
        {"data": {"name": "vmajor"}, "mark": {"type": "tick", "orient": "horizontal", "size": 6, "thickness": 1.3, "color": "black", "opacity": 1}, "encoding": {"y": {"field": "p", "type": "quantitative"}, "x": {"datum": 0}}},
        {"data": {"name": "vmajor"}, "mark": {"type": "tick", "orient": "horizontal", "size": 6, "thickness": 1.3, "color": "black", "opacity": 1}, "encoding": {"y": {"field": "p", "type": "quantitative"}, "x": {"datum": 10}}},
        {"data": {"name": "sine7"}, "mark": {"type": "line", "color": "black", "strokeWidth": 2.5, "interpolate": "monotone"}, "encoding": {"x": {"field": "t", "type": "quantitative"}, "y": {"field": "v", "type": "quantitative"}, "order": {"value": null}}},
        {"data": {"values": [{}]}, "mark": {"type": "point", "shape": "M-1,0L-0.21,-0.58L-0.21,-0.27L1,-0.27L1,0.27L-0.21,0.27L-0.21,0.58Z", "size": 841, "filled": true, "color": "black", "opacity": 1, "strokeWidth": 0}, "encoding": {"x": {"datum": 10.54}, "y": {"datum": 4}}},
        {"data": {"values": [{}]}, "mark": {"type": "rect", "color": "black", "opacity": 1}, "encoding": {"x": {"datum": 11.11}, "x2": {"datum": 12.18}, "y": {"datum": 3.75}, "y2": {"datum": 4.26}}},
        {"data": {"values": [{}]}, "mark": {"type": "text", "align": "center", "baseline": "middle", "fontSize": 15, "fontWeight": "bold", "font": "DejaVu Sans", "color": "white"}, "encoding": {"x": {"datum": 11.645}, "y": {"datum": 4.005}, "text": {"value": "ℤℤℤ"}}},
        {"data": {"values": [{}]}, "mark": {"type": "text", "align": "left", "baseline": "middle", "fontSize": 22}, "encoding": {"x": {"datum": 10.42}, "y": {"datum": 7.71}, "text": {"value": "5 V/DIV"}}},
        {"data": {"values": [{}]}, "mark": {"type": "text", "align": "right", "baseline": "middle", "fontSize": 22}, "encoding": {"x": {"datum": 9.25}, "y": {"datum": 0.77}, "text": {"value": "0.5 ms/DIV"}}},
        {"data": {"values": [{}]}, "mark": {"type": "text", "align": "left", "baseline": "middle", "fontSize": 15}, "encoding": {"x": {"datum": -0.42}, "y": {"datum": -0.49}, "text": {"value": "C42920"}}},
        {"data": {"values": [{}]}, "mark": {"type": "text", "align": "right", "baseline": "middle", "fontSize": 15}, "encoding": {"x": {"datum": 13.67}, "y": {"datum": -0.4}, "text": {"value": "C53419"}}}
      ]},
      {"width": 860, "height": 354, "layer": [
        {"data": {"values": [{}]}, "mark": {"type": "text", "align": "left", "baseline": "alphabetic", "fontSize": 31}, "encoding": {"x": {"datum": 0.0012, "scale": {"domain": [-0.01432, 1.01193], "nice": false, "zero": false}}, "y": {"datum": -1.542, "scale": {"domain": [-2.189, 7.353], "nice": false, "zero": false, "reverse": true}}, "text": {"value": "Pulse generation 7"}}},
        {"data": {"values": [{}]}, "mark": {"type": "text", "align": "left", "baseline": "alphabetic", "fontSize": 31, "fontWeight": "bold"}, "encoding": {"x": {"datum": 0.0949}, "y": {"datum": -0.491}, "text": {"value": "Reference:"}}},
        {"data": {"name": "t7"}, "mark": {"type": "rect", "fill": "transparent", "stroke": "black", "strokeWidth": 3}, "encoding": {"x": {"datum": 0}, "x2": {"datum": 1}, "y": {"field": "top", "type": "quantitative"}, "y2": {"field": "bottom"}}},
        {"data": {"values": [{}]}, "mark": {"type": "rule", "stroke": "black", "strokeWidth": 3}, "encoding": {"x": {"datum": 0.2792}, "y": {"datum": 0}, "y2": {"datum": 3}}},
        {"data": {"name": "t7"}, "mark": {"type": "text", "align": "left", "baseline": "middle", "fontSize": 21.8}, "encoding": {"x": {"datum": 0.0131}, "y": {"field": "mid", "type": "quantitative"}, "text": {"field": "label"}}},
        {"data": {"name": "t7"}, "mark": {"type": "text", "align": "left", "baseline": "middle", "fontSize": 21.8}, "encoding": {"x": {"datum": 0.2924}, "y": {"field": "vy", "type": "quantitative"}, "text": {"field": "value"}}}
      ]}
    ], "spacing": 20, "bounds": "flush"}
  ]
}
